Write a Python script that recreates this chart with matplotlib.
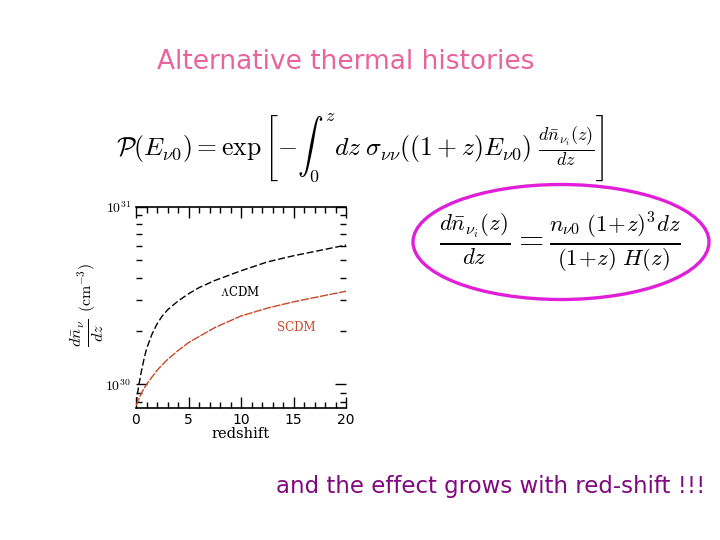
import matplotlib
matplotlib.use("Agg")
import matplotlib.pyplot as plt
from matplotlib.patches import Ellipse
from matplotlib.ticker import LogLocator, FixedLocator, MultipleLocator, NullFormatter

# ---- data ----
redshift = [0, 0.25, 0.5, 0.75, 1, 1.5, 2, 2.5, 3, 4, 5, 6, 7.5, 10, 12.5, 15, 17.5, 20]
lcdm = [7.76e29, 9.77e29, 1.175e30, 1.38e30, 1.585e30, 1.905e30, 2.19e30, 2.43e30,
        2.63e30, 2.95e30, 3.24e30, 3.51e30, 3.85e30, 4.37e30, 4.90e30, 5.31e30,
        5.69e30, 6.10e30]
scdm = [7.59e29, 8.22e29, 8.91e29, 9.44e29, 1.0e30, 1.096e30, 1.20e30, 1.29e30,
        1.38e30, 1.55e30, 1.72e30, 1.86e30, 2.09e30, 2.43e30, 2.69e30, 2.92e30,
        3.13e30, 3.35e30]
xticks = [0, 5, 10, 15, 20]
yticks = [1e30, 1e31]
yticklabels = [r'$10^{30}$', r'$10^{31}$']

title = "Alternative thermal histories"
footer = "and the effect grows with red-shift !!!"
eq1 = (r'$\mathcal{P}(E_{\nu0}) = \exp\left[-\int_0^z dz\;\sigma_{\nu\nu}((1+z)E_{\nu0})\;'
       r'\frac{d\bar{n}_{\nu_i}(z)}{dz}\right]$')
eq2 = r'$\frac{d\bar{n}_{\nu_i}(z)}{dz} = \frac{n_{\nu0}\ (1\!+\!z)^3 dz}{(1\!+\!z)\ H(z)}$'

plt.rcParams['mathtext.fontset'] = 'cm'

fig = plt.figure(figsize=(7.2, 5.4), dpi=100)
fig.patch.set_facecolor('white')

# slide texts
fig.text(346/720, 1 - 62/540, title, color='#e8649c', fontsize=19,
         ha='center', va='center', family='DejaVu Sans')
fig.text(491/720, 1 - 486/540, footer, color='#800880', fontsize=16.5,
         ha='center', va='center', family='DejaVu Sans')
fig.text(360/720, 1 - 148/540, eq1, color='black', fontsize=18.5,
         ha='center', va='center')
fig.text(560/720, 1 - 242/540, eq2, color='black', fontsize=23.5,
         ha='center', va='center')

# ellipse on overlay axes
ov = fig.add_axes([0, 0, 1, 1], facecolor='none')
ov.set_xlim(0, 720)
ov.set_ylim(540, 0)
ov.axis('off')
ov.add_patch(Ellipse((561, 242), 296, 115, fill=False, edgecolor='#e020d8', lw=2.4))

# plot
ax = fig.add_axes([136/720, 1 - 408/540, 210/720, 201/540])
ax.plot(redshift, lcdm, color='black', lw=1.0, ls=(0, (5, 2)))
ax.plot(redshift, scdm, color='#c8482a', lw=1.0, ls=(0, (6, 1)))
ax.set_yscale('log')
ax.set_xlim(0, 20)
ax.set_ylim(7.36e29, 1e31)
ax.set_xticks(xticks)
ax.xaxis.set_minor_locator(MultipleLocator(1))
ax.yaxis.set_major_locator(FixedLocator(yticks))
ax.set_yticklabels(yticklabels)
ax.yaxis.set_minor_locator(LogLocator(base=10, subs=range(2, 10)))
ax.yaxis.set_minor_formatter(NullFormatter())
ax.tick_params(which='both', direction='in', top=True, right=True, labelsize=10)
ax.tick_params(which='major', length=8, width=1)
ax.tick_params(which='minor', length=4, width=1)
for s in ax.spines.values():
    s.set_visible(False)
ax.spines['bottom'].set_visible(True)
ax.spines['top'].set_visible(True)
ax.spines['bottom'].set_linewidth(1.2)
ax.spines['top'].set_linewidth(1.2)
ax.set_xlabel('redshift', fontsize=10.5, labelpad=0, family='DejaVu Serif')
# y label: fraction + units
ax.text(-0.235, 0.375, r'$\frac{d\bar{n}_\nu}{dz}$', fontsize=17, rotation=90,
        ha='center', va='center', transform=ax.transAxes)
ax.text(-0.235, 0.6, r'$(\mathrm{cm}^{-3})$', fontsize=11.5, rotation=90,
        ha='center', va='center', transform=ax.transAxes)
ax.text(9.9, 3.3e30, r'$\Lambda$CDM', fontsize=8.5, ha='center', va='center',
        color='black', family='DejaVu Serif')
ax.text(15.3, 2.1e30, 'SCDM', fontsize=8.5, ha='center', va='center',
        color='#c8482a', family='DejaVu Serif')

fig.savefig('out.png', dpi=100, facecolor='white')
